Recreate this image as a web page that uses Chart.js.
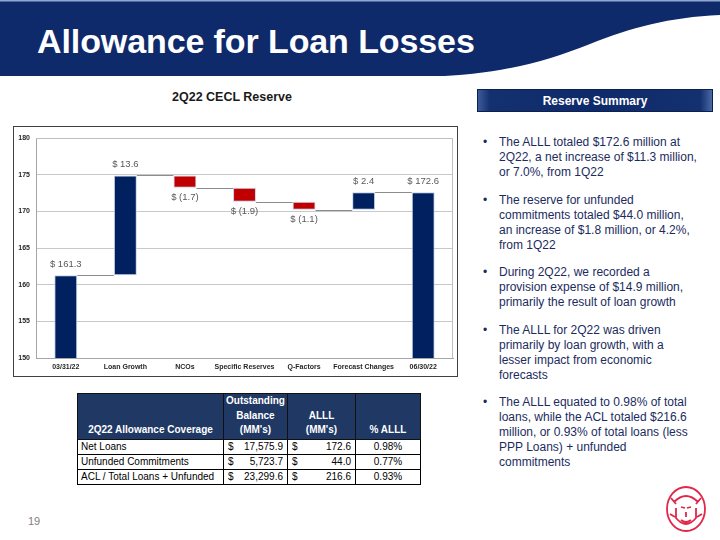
<!DOCTYPE html>
<html>
<head>
<meta charset="utf-8">
<script src="https://cdn.jsdelivr.net/npm/chart.js@4"></script>
<style>
  body { margin: 0; width: 720px; height: 540px; overflow: hidden; background: #fff; font-family: "Liberation Sans", Arial, sans-serif; position: relative; }
  .abs { position: absolute; }
  #title { left: 37px; top: 22px; color: #fff; font-weight: bold; font-size: 34px; letter-spacing: -0.1px; }
  #sub { left: 130px; top: 90px; width: 204px; text-align: center; font-weight: bold; font-size: 12.5px; color: #1a1a1a; }
  #box { left: 13px; top: 126px; width: 443px; height: 249px; border: 1.5px solid #404040; }
  #btn { left: 477px; top: 89px; width: 236px; height: 23px; color: #fff; font-weight: bold; font-size: 12px; text-align: center; line-height: 23px;
         background: linear-gradient(to right, #3d5a9a 0%, #13306f 5%, #0f2a6a 50%, #13306f 95%, #4a67a6 100%); border: 1px solid #0b1f50; box-sizing: border-box; }
  .bul { left: 483px; width: 235px; color: #1b2b5e; font-size: 12px; line-height: 15px; }
  .bul span.d { position: absolute; left: 0; }
  .bul div.t { margin-left: 16px; }
  table { position: absolute; left: 77px; top: 393px; width: 343px; border-collapse: collapse; font-size: 10px; color: #000; table-layout: fixed; }
  th { background: #1f3864; color: #fff; font-weight: bold; vertical-align: bottom; text-align: center; line-height: 14.5px; padding: 0 0 1px 0; border: 1px solid #111; }
  td { border: 1px solid #000; height: 14px; padding: 0 3px; line-height: 14px; }
  td.n { padding: 0 4px; }
  td.n div { display: flex; justify-content: space-between; }
  td.p { text-align: center; }
  #pg { left: 28px; top: 515px; color: #808080; font-size: 11px; }
</style>
</head>
<body>
<svg class="abs" style="left:0;top:0" width="720" height="80">
  <rect x="0" y="0" width="720" height="76" fill="#0f2a6a"/>
  <rect x="0" y="0" width="720" height="1.5" fill="#8fa6d0"/>
  <path d="M 430 77 C 500 74, 545 62, 590 44 C 630 28, 670 17, 720 15 L 720 80 L 430 80 Z" fill="#fff"/>
</svg>
<div id="title" class="abs">Allowance for Loan Losses</div>
<div id="sub" class="abs">2Q22 CECL Reserve</div>
<div id="box" class="abs"></div>
<canvas id="wf" class="abs" style="left:14px;top:127px" width="443" height="249"></canvas>

<div id="btn" class="abs">Reserve Summary</div>
<div class="abs bul" style="top:135px"><span class="d">•</span><div class="t">The ALLL totaled $172.6 million at<br>2Q22, a net increase of $11.3 million,<br>or 7.0%, from 1Q22</div></div>
<div class="abs bul" style="top:193px"><span class="d">•</span><div class="t">The reserve for unfunded<br>commitments totaled $44.0 million,<br>an increase of $1.8 million, or 4.2%,<br>from 1Q22</div></div>
<div class="abs bul" style="top:265px"><span class="d">•</span><div class="t">During 2Q22, we recorded a<br>provision expense of $14.9 million,<br>primarily the result of loan growth</div></div>
<div class="abs bul" style="top:323px"><span class="d">•</span><div class="t">The ALLL for 2Q22 was driven<br>primarily by loan growth, with a<br>lesser impact from economic<br>forecasts</div></div>
<div class="abs bul" style="top:395px"><span class="d">•</span><div class="t">The ALLL equated to 0.98% of total<br>loans, while the ACL totaled $216.6<br>million, or 0.93% of total loans (less<br>PPP Loans) + unfunded<br>commitments</div></div>

<table>
  <colgroup><col style="width:146px"><col style="width:64px"><col style="width:68px"><col style="width:65px"></colgroup>
  <tr style="height:44px"><th>2Q22 Allowance Coverage</th><th>Outstanding<br>Balance<br>(MM's)</th><th>ALLL<br>(MM's)</th><th>% ALLL</th></tr>
  <tr><td>Net Loans</td><td class="n"><div><span>$</span><span>17,575.9</span></div></td><td class="n"><div><span>$</span><span>172.6</span></div></td><td class="p">0.98%</td></tr>
  <tr><td>Unfunded Commitments</td><td class="n"><div><span>$</span><span>5,723.7</span></div></td><td class="n"><div><span>$</span><span>44.0</span></div></td><td class="p">0.77%</td></tr>
  <tr><td>ACL / Total Loans + Unfunded</td><td class="n"><div><span>$</span><span>23,299.6</span></div></td><td class="n"><div><span>$</span><span>216.6</span></div></td><td class="p">0.93%</td></tr>
</table>

<div id="pg" class="abs">19</div>
<svg class="abs" style="left:662px;top:484px" width="50" height="52">
  <g fill="none" stroke="#e0284a" stroke-width="1.8">
    <ellipse cx="24" cy="25" rx="19" ry="22"/>
    <path d="M 12 18 Q 24 6 36 18 M 14 24 L 14 34 Q 24 46 34 34 L 34 24 M 19 23 L 23 24 M 29 23 L 25 24 M 24 28 L 24 33 M 19 36 Q 24 40 29 36 M 9 14 L 14 20 M 39 14 L 34 20 M 8 30 L 13 33 M 40 30 L 35 33"/>
  </g>
</svg>

<script>
// ==== Data ====
const categories = ['03/31/22', 'Loan Growth', 'NCOs', 'Specific Reserves', 'Q-Factors', 'Forecast Changes', '06/30/22'];
const changes = [161.3, 13.6, -1.7, -1.9, -1.1, 2.4, 172.6];
const isTotal = [true, false, false, false, false, false, true];
const yTicks = [150, 155, 160, 165, 170, 175, 180];

const NAVY = '#002060';
const RED = '#c00000';

// floating bars + running level after each step
let running = 0;
const ranges = [];
const levels = [];
changes.forEach((v, i) => {
  if (isTotal[i]) { ranges.push([0, v]); running = v; }
  else { ranges.push([running, running + v]); running = Math.round((running + v) * 10) / 10; }
  levels.push(running);
});

function labelText(i) {
  const v = changes[i];
  if (v < 0) return '$ (' + Math.abs(v).toFixed(1) + ')';
  return '$ ' + v.toFixed(1);
}

// connectors, value labels, plot frame
const waterfallExtras = {
  id: 'waterfallExtras',
  afterDatasetsDraw(chart) {
    const ctx = chart.ctx;
    const bars = chart.getDatasetMeta(0).data;
    const y = chart.scales.y;
    const a = chart.chartArea;
    ctx.save();
    // frame
    ctx.strokeStyle = '#bfbfbf'; ctx.lineWidth = 1;
    ctx.beginPath();
    ctx.moveTo(a.left, a.top + 0.5); ctx.lineTo(a.right - 0.5, a.top + 0.5); ctx.lineTo(a.right - 0.5, a.bottom);
    ctx.stroke();
    // connectors
    ctx.strokeStyle = '#8c8c8c';
    for (let i = 0; i < bars.length - 1; i++) {
      const py = Math.round(y.getPixelForValue(levels[i])) + 0.5;
      ctx.beginPath();
      ctx.moveTo(bars[i].x + bars[i].width / 2, py);
      ctx.lineTo(bars[i + 1].x - bars[i + 1].width / 2, py);
      ctx.stroke();
    }
    // labels
    ctx.fillStyle = '#595959';
    ctx.font = '9.5px "Liberation Sans", Arial, sans-serif';
    ctx.textAlign = 'center'; ctx.textBaseline = 'middle';
    bars.forEach((b, i) => {
      const top = Math.min(b.y, b.base), bottom = Math.max(b.y, b.base);
      const ty = changes[i] < 0 ? bottom + 10 : top - 11;
      ctx.fillText(labelText(i), b.x, ty);
    });
    ctx.restore();
  }
};

new Chart(document.getElementById('wf').getContext('2d'), {
  type: 'bar',
  data: {
    labels: categories,
    datasets: [{
      data: ranges,
      backgroundColor: changes.map((v, i) => (isTotal[i] || v >= 0) ? NAVY : RED),
      borderColor: 'rgba(190,205,230,0.9)',
      borderWidth: 1,
      borderSkipped: false,
      barPercentage: 0.385,
      categoryPercentage: 1
    }]
  },
  options: {
    responsive: false,
    animation: false,
    layout: { padding: { top: 11, right: 4, left: 0, bottom: 0 } },
    plugins: { legend: { display: false }, tooltip: { enabled: false } },
    scales: {
      x: {
        grid: { display: false, drawTicks: false },
        border: { color: '#a6a6a6' },
        ticks: { color: '#262626', font: { size: 7, weight: 'bold', family: '"Liberation Sans", Arial' }, padding: 5, maxRotation: 0, autoSkip: false },
        afterFit: s => { s.height = 18; }
      },
      y: {
        min: yTicks[0], max: yTicks[yTicks.length - 1],
        afterBuildTicks: s => { s.ticks = yTicks.map(v => ({ value: v })); },
        grid: { color: '#c8c8c8', drawTicks: false },
        border: { color: '#a6a6a6' },
        ticks: { color: '#262626', font: { size: 7, weight: 'bold', family: '"Liberation Sans", Arial' }, padding: 6 },
        afterFit: s => { s.width = 22; }
      }
    }
  },
  plugins: [waterfallExtras]
});
</script>
</body>
</html>
